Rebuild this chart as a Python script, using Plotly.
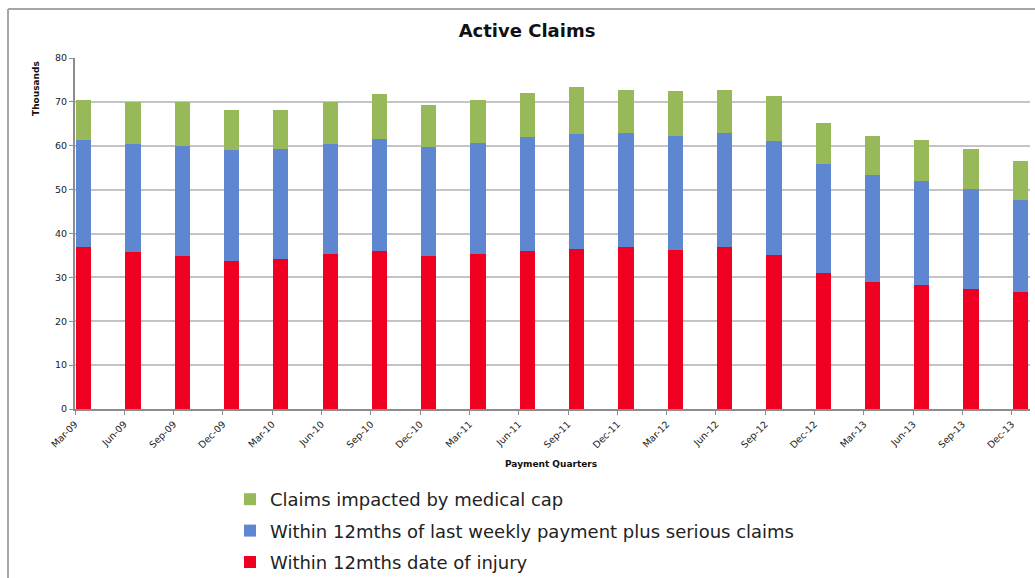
import plotly.graph_objects as go

quarters = ["Mar-09", "Jun-09", "Sep-09", "Dec-09", "Mar-10", "Jun-10", "Sep-10", "Dec-10",
            "Mar-11", "Jun-11", "Sep-11", "Dec-11", "Mar-12", "Jun-12", "Sep-12", "Dec-12",
            "Mar-13", "Jun-13", "Sep-13", "Dec-13"]
within_injury = [36.9, 35.7, 34.8, 33.8, 34.1, 35.4, 36.0, 34.8, 35.3, 36.0,
                 36.4, 37.0, 36.3, 36.9, 35.0, 30.9, 29.0, 28.3, 27.4, 26.7]
within_weekly = [24.5, 24.8, 25.2, 25.2, 25.2, 25.1, 25.6, 24.9, 25.4, 25.9,
                 26.3, 26.0, 26.0, 26.1, 26.0, 25.0, 24.3, 23.6, 22.8, 21.0]
medical_cap = [9.0, 9.5, 10.0, 9.1, 8.8, 9.5, 10.3, 9.7, 9.8, 10.2,
               10.8, 9.8, 10.2, 9.8, 10.4, 9.4, 9.0, 9.5, 9.1, 8.9]
y_ticks = [0, 10, 20, 30, 40, 50, 60, 70, 80]

series = [
    ("Within 12mths date of injury", within_injury, "#F00020", 3),
    ("Within 12mths of last weekly payment plus serious claims", within_weekly, "#5F87D1", 2),
    ("Claims impacted by medical cap", medical_cap, "#98B95A", 1),
]

fig = go.Figure()
for i, (name, vals, col, rank) in enumerate(series):
    fig.add_trace(go.Bar(
        x=quarters, y=vals, name=name, marker_color=col,
        marker_line_width=0, width=0.31, offset=0.02, legendgroup=f"g{i}",
        legendrank=rank,
    ))

FONT = "'DejaVu Sans', Verdana, sans-serif"
fig.update_layout(
    barmode="stack",
    width=1035, height=578,
    margin=dict(l=75, r=5, t=58, b=169, autoexpand=False),
    paper_bgcolor="white", plot_bgcolor="white",
    font=dict(family=FONT, color="#1a1a2e"),
    title=dict(text="<b>Active Claims</b>", x=527 / 1035, xanchor="center", xref="container",
               y=1 - 31 / 578, yanchor="middle", font=dict(size=18, color="#111")),
    xaxis=dict(type="category", range=[0, 19.37], tickangle=-45,
               tickfont=dict(size=9.5, color="#222"), showgrid=False,
               showline=True, linecolor="#8c8c8c", linewidth=2,
               ticks="outside", ticklen=4, tickcolor="#8c8c8c", tickson="labels"),
    yaxis=dict(range=[0, 80], tickvals=y_ticks, tickfont=dict(size=9.5, color="#222"),
               showgrid=True, gridcolor="#c4c4c4", gridwidth=1.5,
               showline=True, linecolor="#8c8c8c", linewidth=2,
               ticks="outside", ticklen=4, tickcolor="#8c8c8c", zeroline=False),
    legend=dict(x=(230 - 75) / 955, y=(409 - 481) / 351, xanchor="left", yanchor="top",
                traceorder="grouped", tracegroupgap=5,
                font=dict(size=18, color="#222"), bgcolor="rgba(0,0,0,0)",
                itemwidth=30),
    showlegend=True,
)

fig.add_annotation(text="<b>Payment Quarters</b>", xref="paper", yref="paper",
                   x=(551 - 75) / 955, y=(409 - 464) / 351, showarrow=False,
                   font=dict(size=9, color="#111"), xanchor="center", yanchor="middle")
fig.add_annotation(text="<b>Thousands</b>", xref="paper", yref="paper",
                   x=(36 - 75) / 955, y=(409 - 89) / 351, showarrow=False,
                   textangle=-90, font=dict(size=9, color="#111"),
                   xanchor="center", yanchor="middle")

# outer chart frame (top and left edges visible)
fig.add_shape(type="line", xref="paper", yref="paper",
              x0=(8 - 75) / 955, x1=(1035 - 75) / 955, y0=(409 - 9) / 351, y1=(409 - 9) / 351,
              line=dict(color="#a6a6a6", width=2))
fig.add_shape(type="line", xref="paper", yref="paper",
              x0=(8 - 75) / 955, x1=(8 - 75) / 955, y0=(409 - 9) / 351, y1=(409 - 578) / 351,
              line=dict(color="#a6a6a6", width=2))

fig.write_html("out.html", config={"displayModeBar": False},
               post_script="document.body.style.margin='0px';")
